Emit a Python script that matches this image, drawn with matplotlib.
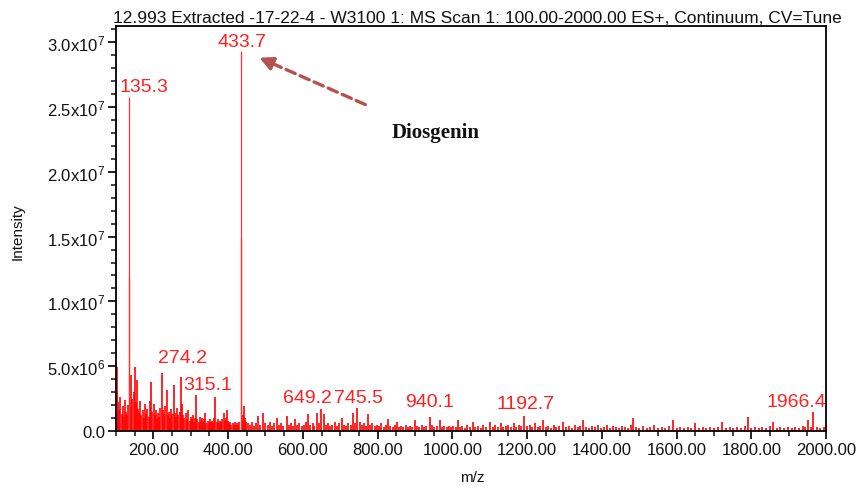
import numpy as np
import matplotlib.pyplot as plt
from matplotlib.ticker import MultipleLocator

plt.rcParams['font.family'] = ['Liberation Sans', 'DejaVu Sans']

# main peaks (m/z, intensity in 1e6 counts)
main_mz = [134.9, 135.3, 433.2, 433.7]
main_int = [11.9, 25.8, 14.8, 29.3]

# labelled peaks
label_mz = [274.2, 315.1, 649.2, 745.5, 940.1, 1192.7, 1966.4]
label_int = [4.2, 2.8, 1.7, 1.8, 1.1, 1.15, 1.45]

# small peaks 100-450
grass_a_mz = [102, 104, 106, 109, 112, 115, 118, 121, 124, 127, 130, 133, 138, 141, 144, 147,
              150, 153, 156, 159, 162, 165, 168, 171, 174, 178, 181, 184, 187, 191, 194, 197,
              201, 204, 207, 210, 213, 216, 219, 223, 226, 229, 232, 236, 239, 242, 245, 248,
              251, 254, 257, 260, 263, 266, 270, 277, 280, 283, 286, 290, 294, 297, 300, 303,
              306, 309, 312, 318, 321, 324, 327, 330, 333, 336, 339, 342, 345, 348, 351, 354,
              357, 360, 363, 366, 369, 372, 375, 378, 381, 384, 388, 391, 394, 397, 400, 403,
              406, 409, 412, 415, 418, 421, 424, 427, 430, 436, 439, 442, 445, 448]
grass_a_int = [3.1, 4.9, 2.2, 1.6, 2.6, 1.3, 1.9, 1.1, 2.4, 1.5, 1.2, 2.0, 1.8, 4.3, 2.5, 3.0,
               4.9, 2.2, 3.9, 1.7, 1.4, 2.3, 1.2, 1.6, 1.0, 2.1, 1.3, 1.7, 1.1, 2.3, 3.8, 1.5,
               2.1, 1.2, 1.6, 0.9, 1.4, 1.1, 1.8, 4.45, 1.6, 1.3, 1.9, 3.2, 1.2, 1.5, 1.0, 1.7,
               1.3, 3.55, 1.4, 1.1, 1.8, 1.2, 1.5, 2.1, 1.2, 1.0, 1.4, 0.9, 1.6, 0.8, 1.1, 0.9,
               1.2, 0.7, 1.0, 0.9, 0.7, 1.1, 0.8, 1.0, 0.7, 0.9, 1.4, 0.6, 0.8, 0.6, 0.9, 0.7,
               0.8, 0.6, 1.0, 2.65, 0.7, 0.9, 0.6, 0.8, 0.7, 0.9, 1.4, 0.8, 1.0, 1.6, 0.8, 0.6,
               0.7, 0.5, 0.6, 0.5, 0.7, 0.5, 0.6, 0.5, 0.7, 0.8, 1.2, 1.95, 1.0, 0.7]

# small peaks 450-1000
grass_b_mz = [452, 458, 464, 470, 475, 480, 486, 494, 500, 506, 512, 518, 524, 530, 536, 542,
              548, 557, 563, 569, 574, 579, 585, 591, 597, 603, 608, 614, 620, 626, 631, 637,
              643, 656, 661, 667, 673, 679, 685, 691, 697, 704, 710, 716, 722, 728, 735, 740,
              752, 758, 764, 769, 774, 780, 786, 792, 798, 804, 810, 816, 822, 828, 834, 840,
              846, 851, 857, 863, 869, 875, 881, 887, 893, 900, 906, 912, 918, 924, 930, 946,
              952, 958, 967, 973, 979, 985, 991, 997]
grass_b_int = [0.6, 0.5, 0.7, 0.4, 0.6, 1.16, 0.5, 1.4, 0.6, 0.5, 0.7, 0.4, 0.6, 1.0, 0.5, 0.6,
               0.4, 1.15, 0.5, 0.6, 0.4, 0.9, 0.5, 0.6, 0.4, 0.5, 0.7, 1.3, 0.5, 0.6, 0.4, 1.4,
               0.6, 1.3, 0.5, 0.6, 0.4, 0.5, 0.7, 0.4, 0.6, 1.0, 0.5, 0.4, 0.6, 0.5, 1.4, 0.6,
               0.7, 0.5, 0.6, 0.4, 1.3, 0.5, 0.6, 0.4, 0.5, 0.4, 0.6, 0.3, 0.5, 0.9, 0.4, 0.3,
               0.5, 0.7, 0.3, 0.4, 0.3, 0.5, 0.3, 0.4, 0.3, 0.85, 0.4, 0.3, 0.5, 0.3, 0.4, 0.5,
               0.3, 0.4, 0.85, 0.3, 0.4, 0.3, 0.4, 0.3]

# small peaks 1000-2000
grass_c_mz = [1003, 1009, 1015, 1021, 1027, 1033, 1040, 1047, 1055, 1062, 1069, 1076, 1083, 1090,
              1101, 1108, 1115, 1122, 1129, 1136, 1143, 1150, 1157, 1164, 1171, 1178, 1185, 1200,
              1207, 1214, 1221, 1228, 1235, 1243, 1250, 1257, 1264, 1271, 1278, 1285, 1296, 1304,
              1312, 1320, 1328, 1336, 1343, 1350, 1358, 1366, 1374, 1382, 1390, 1398, 1406, 1414,
              1422, 1430, 1438, 1446, 1454, 1462, 1470, 1477, 1484, 1492, 1500, 1510, 1520, 1530,
              1540, 1550, 1560, 1570, 1580, 1590, 1600, 1610, 1620, 1630, 1640, 1649, 1660, 1670,
              1680, 1690, 1700, 1710, 1722, 1732, 1742, 1752, 1762, 1772, 1782, 1791, 1800, 1810,
              1820, 1830, 1840, 1850, 1858, 1868, 1878, 1888, 1898, 1908, 1918, 1928, 1938, 1945,
              1952, 1960, 1975, 1985, 1995]
grass_c_int = [0.4, 0.3, 0.85, 0.3, 0.4, 0.2, 0.5, 0.3, 0.7, 0.3, 0.4, 0.2, 0.5, 0.3,
               0.7, 0.3, 0.5, 0.3, 0.6, 0.3, 0.4, 0.5, 0.3, 0.6, 0.3, 0.5, 0.4, 0.4,
               0.5, 0.3, 0.6, 0.3, 0.4, 0.85, 0.3, 0.4, 0.2, 0.5, 0.3, 0.4, 0.7, 0.3,
               0.4, 0.2, 0.5, 0.3, 0.4, 0.85, 0.3, 0.2, 0.4, 0.3, 0.5, 0.2, 0.3, 0.5,
               0.2, 0.4, 0.3, 0.2, 0.4, 0.3, 0.2, 0.5, 1.0, 0.3, 0.2, 0.4, 0.2, 0.3,
               0.5, 0.2, 0.3, 0.2, 0.4, 0.85, 0.2, 0.3, 0.2, 0.3, 0.2, 0.6, 0.2, 0.3,
               0.2, 0.3, 0.2, 0.3, 0.7, 0.2, 0.3, 0.2, 0.3, 0.2, 0.4, 1.1, 0.2, 0.3,
               0.2, 0.3, 0.2, 0.4, 0.7, 0.2, 0.3, 0.2, 0.3, 0.2, 0.3, 0.2, 0.4, 0.3,
               0.85, 0.3, 0.3, 0.2, 0.3]

# label text positions (centre m/z, baseline intensity 1e6)
text_labels = ['433.7', '135.3', '274.2', '315.1', '649.2', '745.5', '940.1', '1192.7', '1966.4']
text_x = [437, 175, 278, 345, 612, 749, 938, 1197, 1920]
text_y = [29.7, 26.2, 5.3, 3.24, 2.24, 2.24, 1.95, 1.77, 1.95]

yticks = [0, 5e6, 1e7, 1.5e7, 2e7, 2.5e7, 3e7]
ytick_labels = ['0.0', r'$\mathregular{5.0x10^6}$', r'$\mathregular{1.0x10^7}$', r'$\mathregular{1.5x10^7}$',
                r'$\mathregular{2.0x10^7}$', r'$\mathregular{2.5x10^7}$', r'$\mathregular{3.0x10^7}$']
xticks = [200, 400, 600, 800, 1000, 1200, 1400, 1600, 1800, 2000]

title = '12.993 Extracted -17-22-4 - W3100 1: MS Scan 1: 100.00-2000.00 ES+, Continuum, CV=Tune'


def main():
    fig = plt.figure(figsize=(8.62, 4.89), dpi=100)
    ax = fig.add_axes([116 / 862, 57 / 489, 710 / 862, 405 / 489])

    all_mz = grass_a_mz + grass_b_mz + grass_c_mz + label_mz
    all_int = grass_a_int + grass_b_int + grass_c_int + label_int
    ax.vlines(all_mz, 0, np.array(all_int) * 1e6, color='#ff0000', lw=1.2)
    ax.vlines(main_mz, 0, np.array(main_int) * 1e6, color='#ff3030', lw=0.9)

    for t, x, y in zip(text_labels, text_x, text_y):
        ax.text(x, y * 1e6, t, color='#ff2020', fontsize=14, ha='center', va='baseline')

    # arrow to the diosgenin peak
    ax.annotate('', xy=(506, 28.52e6), xytext=(774, 25.1e6),
                arrowprops=dict(arrowstyle='-', linestyle=(0, (3, 1.6)), lw=2.4, color='#b5524f'))
    ax.annotate('', xy=(477, 28.9e6), xytext=(515, 28.4e6),
                arrowprops=dict(arrowstyle='-|>', lw=2.4, color='#b5524f', mutation_scale=20))
    ax.text(956, 23.1e6, 'Diosgenin', family='Liberation Serif', fontweight='bold',
            fontsize=15, ha='center', va='center', color='#111111')

    ax.set_xlim(100, 2000)
    ax.set_ylim(0, 31.25e6)
    ax.set_xticks(xticks)
    ax.set_xticklabels(['%.2f' % v for v in xticks])
    ax.xaxis.set_minor_locator(MultipleLocator(50))
    ax.set_yticks(yticks)
    ax.set_yticklabels(ytick_labels)
    ax.yaxis.set_minor_locator(MultipleLocator(1e6))
    ax.tick_params(which='major', direction='out', length=6, width=1.3, labelsize=12,
                   colors='#111111', pad=2)
    ax.tick_params(which='minor', direction='out', length=3.5, width=1.1, colors='#111111')
    for s in ax.spines.values():
        s.set_linewidth(1.3)

    fig.text(842 / 862, 1 - 23 / 489, title, ha='right', va='baseline', fontsize=12.5, color='#111111')
    fig.text(18 / 862, 1 - 232 / 489, 'Intensity', rotation=90, ha='center', va='center',
             fontsize=11, color='#111111')
    fig.text(472 / 862, 1 - 478 / 489, 'm/z', ha='center', va='center', fontsize=11, color='#111111')

    fig.savefig('out.png', dpi=100)


if __name__ == '__main__':
    main()
